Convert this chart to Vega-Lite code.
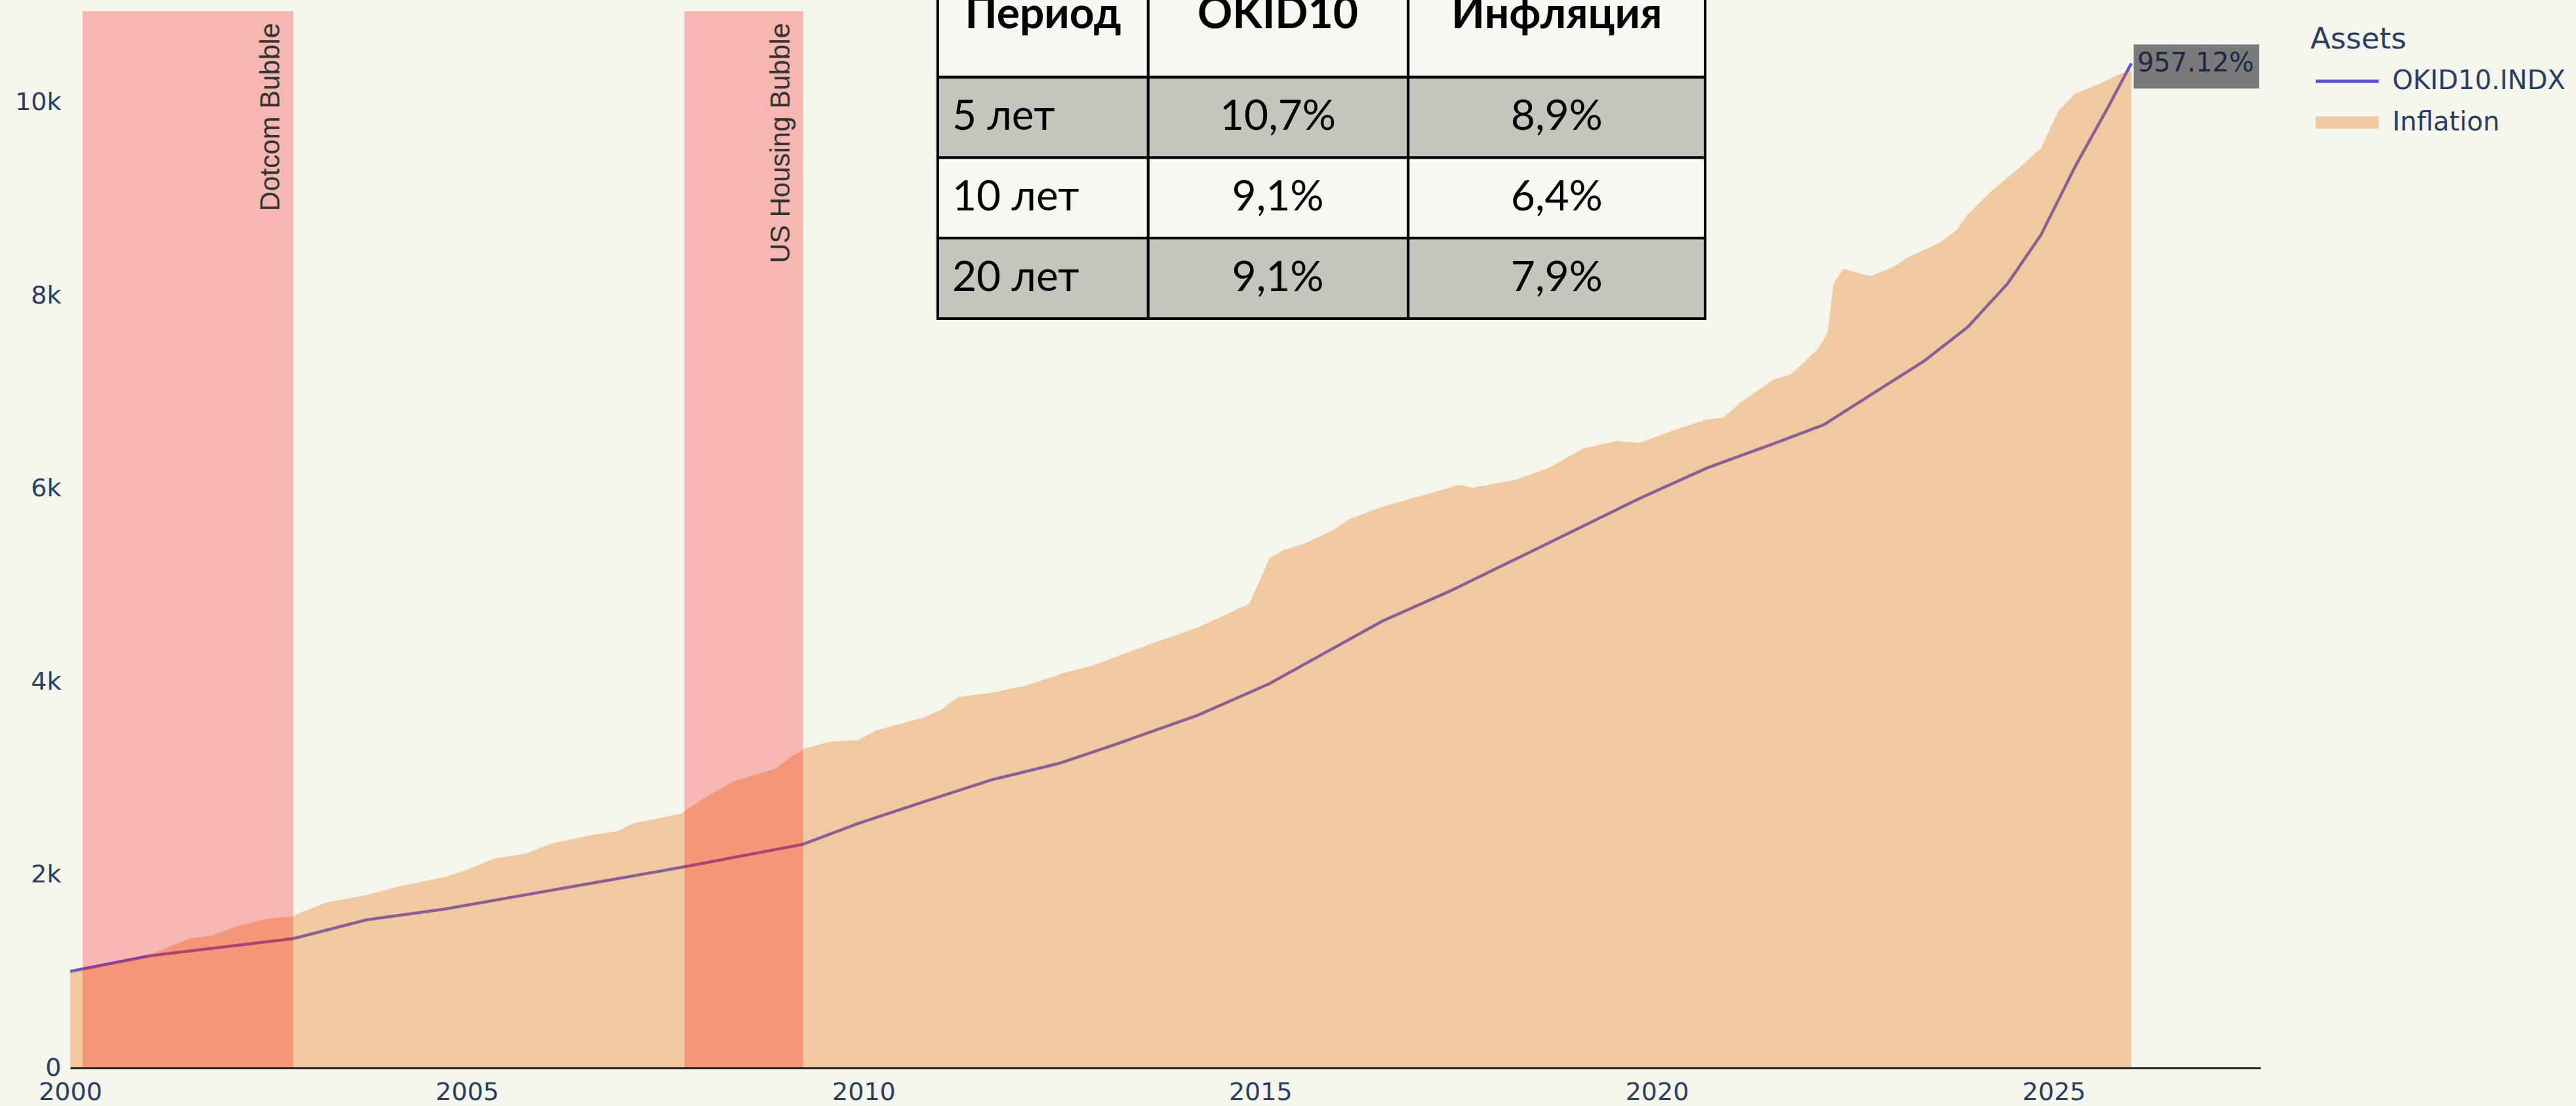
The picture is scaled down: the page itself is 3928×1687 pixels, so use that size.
{
  "$schema": "https://vega.github.io/schema/vega-lite/v6.json",
  "width": 3340,
  "height": 1612,
  "autosize": {"type": "none"},
  "padding": {"left": 107, "top": 17, "right": 481, "bottom": 58},
  "background": "#f5f4ed",
  "config": {"view": {"stroke": null}, "font": "DejaVu Sans"},
  "datasets": {
    "series": [
      {"d": "2000-01-01", "v": 1000, "s": "Inflation"},
      {"d": "2000-12-06", "v": 1148, "s": "Inflation"},
      {"d": "2001-07-01", "v": 1340, "s": "Inflation"},
      {"d": "2001-10-19", "v": 1375, "s": "Inflation"},
      {"d": "2002-02-18", "v": 1476, "s": "Inflation"},
      {"d": "2002-06-20", "v": 1544, "s": "Inflation"},
      {"d": "2002-10-23", "v": 1569, "s": "Inflation"},
      {"d": "2002-11-21", "v": 1603, "s": "Inflation"},
      {"d": "2003-03-24", "v": 1714, "s": "Inflation"},
      {"d": "2003-09-27", "v": 1793, "s": "Inflation"},
      {"d": "2004-02-28", "v": 1884, "s": "Inflation"},
      {"d": "2004-09-17", "v": 1977, "s": "Inflation"},
      {"d": "2005-01-01", "v": 2054, "s": "Inflation"},
      {"d": "2005-05-03", "v": 2167, "s": "Inflation"},
      {"d": "2005-10-05", "v": 2224, "s": "Inflation"},
      {"d": "2006-01-23", "v": 2325, "s": "Inflation"},
      {"d": "2006-07-23", "v": 2412, "s": "Inflation"},
      {"d": "2006-11-21", "v": 2452, "s": "Inflation"},
      {"d": "2007-02-07", "v": 2535, "s": "Inflation"},
      {"d": "2007-09-13", "v": 2636, "s": "Inflation"},
      {"d": "2008-01-15", "v": 2819, "s": "Inflation"},
      {"d": "2008-05-14", "v": 2972, "s": "Inflation"},
      {"d": "2008-11-18", "v": 3098, "s": "Inflation"},
      {"d": "2009-02-03", "v": 3227, "s": "Inflation"},
      {"d": "2009-04-04", "v": 3310, "s": "Inflation"},
      {"d": "2009-08-03", "v": 3383, "s": "Inflation"},
      {"d": "2009-12-06", "v": 3397, "s": "Inflation"},
      {"d": "2010-02-21", "v": 3492, "s": "Inflation"},
      {"d": "2010-10-08", "v": 3634, "s": "Inflation"},
      {"d": "2010-12-27", "v": 3718, "s": "Inflation"},
      {"d": "2011-03-13", "v": 3845, "s": "Inflation"},
      {"d": "2011-08-14", "v": 3887, "s": "Inflation"},
      {"d": "2012-01-15", "v": 3960, "s": "Inflation"},
      {"d": "2012-07-19", "v": 4098, "s": "Inflation"},
      {"d": "2012-11-21", "v": 4171, "s": "Inflation"},
      {"d": "2013-03-02", "v": 4255, "s": "Inflation"},
      {"d": "2013-08-03", "v": 4385, "s": "Inflation"},
      {"d": "2014-03-20", "v": 4565, "s": "Inflation"},
      {"d": "2014-07-23", "v": 4694, "s": "Inflation"},
      {"d": "2014-11-11", "v": 4810, "s": "Inflation"},
      {"d": "2014-12-24", "v": 5020, "s": "Inflation"},
      {"d": "2015-02-11", "v": 5278, "s": "Inflation"},
      {"d": "2015-04-12", "v": 5360, "s": "Inflation"},
      {"d": "2015-07-30", "v": 5441, "s": "Inflation"},
      {"d": "2015-12-02", "v": 5571, "s": "Inflation"},
      {"d": "2016-02-14", "v": 5686, "s": "Inflation"},
      {"d": "2016-07-15", "v": 5815, "s": "Inflation"},
      {"d": "2016-12-17", "v": 5913, "s": "Inflation"},
      {"d": "2017-07-05", "v": 6043, "s": "Inflation"},
      {"d": "2017-09-06", "v": 6012, "s": "Inflation"},
      {"d": "2018-03-24", "v": 6094, "s": "Inflation"},
      {"d": "2018-08-25", "v": 6223, "s": "Inflation"},
      {"d": "2019-01-26", "v": 6417, "s": "Inflation"},
      {"d": "2019-07-01", "v": 6498, "s": "Inflation"},
      {"d": "2019-10-12", "v": 6475, "s": "Inflation"},
      {"d": "2020-03-13", "v": 6603, "s": "Inflation"},
      {"d": "2020-08-18", "v": 6719, "s": "Inflation"},
      {"d": "2020-11-03", "v": 6739, "s": "Inflation"},
      {"d": "2021-01-19", "v": 6895, "s": "Inflation"},
      {"d": "2021-06-20", "v": 7130, "s": "Inflation"},
      {"d": "2021-09-09", "v": 7187, "s": "Inflation"},
      {"d": "2022-01-08", "v": 7441, "s": "Inflation"},
      {"d": "2022-02-25", "v": 7616, "s": "Inflation"},
      {"d": "2022-03-24", "v": 8125, "s": "Inflation"},
      {"d": "2022-05-07", "v": 8281, "s": "Inflation"},
      {"d": "2022-09-09", "v": 8202, "s": "Inflation"},
      {"d": "2022-12-27", "v": 8302, "s": "Inflation"},
      {"d": "2023-02-28", "v": 8397, "s": "Inflation"},
      {"d": "2023-07-30", "v": 8553, "s": "Inflation"},
      {"d": "2023-10-15", "v": 8689, "s": "Inflation"},
      {"d": "2023-12-02", "v": 8845, "s": "Inflation"},
      {"d": "2024-03-17", "v": 9079, "s": "Inflation"},
      {"d": "2024-07-19", "v": 9314, "s": "Inflation"},
      {"d": "2024-11-03", "v": 9528, "s": "Inflation"},
      {"d": "2025-01-23", "v": 9918, "s": "Inflation"},
      {"d": "2025-04-08", "v": 10095, "s": "Inflation"},
      {"d": "2025-07-23", "v": 10190, "s": "Inflation"},
      {"d": "2025-10-08", "v": 10272, "s": "Inflation"},
      {"d": "2025-12-24", "v": 10346, "s": "Inflation"},
      {"d": "2000-01-01", "v": 1000, "s": "OKID10.INDX"},
      {"d": "2001-01-01", "v": 1162, "s": "OKID10.INDX"},
      {"d": "2002-10-23", "v": 1340, "s": "OKID10.INDX"},
      {"d": "2003-09-27", "v": 1535, "s": "OKID10.INDX"},
      {"d": "2004-09-17", "v": 1646, "s": "OKID10.INDX"},
      {"d": "2006-07-23", "v": 1912, "s": "OKID10.INDX"},
      {"d": "2007-10-01", "v": 2085, "s": "OKID10.INDX"},
      {"d": "2009-03-27", "v": 2317, "s": "OKID10.INDX"},
      {"d": "2009-12-06", "v": 2533, "s": "OKID10.INDX"},
      {"d": "2010-10-08", "v": 2761, "s": "OKID10.INDX"},
      {"d": "2011-08-14", "v": 2986, "s": "OKID10.INDX"},
      {"d": "2012-06-17", "v": 3155, "s": "OKID10.INDX"},
      {"d": "2013-03-02", "v": 3350, "s": "OKID10.INDX"},
      {"d": "2014-03-20", "v": 3655, "s": "OKID10.INDX"},
      {"d": "2015-02-11", "v": 3981, "s": "OKID10.INDX"},
      {"d": "2016-07-15", "v": 4629, "s": "OKID10.INDX"},
      {"d": "2017-05-21", "v": 4939, "s": "OKID10.INDX"},
      {"d": "2018-06-09", "v": 5360, "s": "OKID10.INDX"},
      {"d": "2019-10-12", "v": 5900, "s": "OKID10.INDX"},
      {"d": "2020-08-18", "v": 6216, "s": "OKID10.INDX"},
      {"d": "2021-06-20", "v": 6467, "s": "OKID10.INDX"},
      {"d": "2022-02-07", "v": 6664, "s": "OKID10.INDX"},
      {"d": "2022-09-24", "v": 6993, "s": "OKID10.INDX"},
      {"d": "2023-05-14", "v": 7323, "s": "OKID10.INDX"},
      {"d": "2023-12-02", "v": 7677, "s": "OKID10.INDX"},
      {"d": "2024-06-02", "v": 8125, "s": "OKID10.INDX"},
      {"d": "2024-11-03", "v": 8631, "s": "OKID10.INDX"},
      {"d": "2025-04-08", "v": 9334, "s": "OKID10.INDX"},
      {"d": "2025-09-09", "v": 9959, "s": "OKID10.INDX"},
      {"d": "2025-12-24", "v": 10408, "s": "OKID10.INDX"}
    ],
    "bubbles": [
      {"name": "Dotcom Bubble", "start": "2000-02-27", "end": "2002-10-24"},
      {"name": "US Housing Bubble", "start": "2007-09-29", "end": "2009-03-28"}
    ],
    "table": [
      {"period": "Период", "okid": "OKID10", "infl": "Инфляция"},
      {"period": "5 лет", "okid": "10,7%", "infl": "8,9%"},
      {"period": "10 лет", "okid": "9,1%", "infl": "6,4%"},
      {"period": "20 лет", "okid": "9,1%", "infl": "7,9%"}
    ],
    "label": [{"label": "957.12%"}]
  },
  "layer": [
    {
      "layer": [
        {
          "data": {"name": "series"},
          "transform": [{"filter": "datum.s === 'OKID10.INDX'"}],
          "mark": {"type": "line", "strokeWidth": 4.5},
          "encoding": {
            "x": {
              "field": "d", "type": "temporal",
              "scale": {"type": "utc", "domain": [{"year": 2000, "month": 1, "date": 1, "utc": true}, {"year": 2027, "month": 8, "date": 11, "utc": true}]},
              "axis": {"title": null, "format": "%Y", "formatType": "utc", "tickCount": {"interval": "year", "step": 5}, "labelFlush": false, "labelOverlap": false, "domain": true, "domainColor": "#222222", "domainWidth": 3, "ticks": false, "grid": false, "labelFont": "DejaVu Sans", "labelFontSize": 38, "labelColor": "#2a3f5f", "labelPadding": 18, "zindex": 1}
            },
            "y": {
              "field": "v", "type": "quantitative",
              "scale": {"domain": [0, 10950], "nice": false, "zero": true},
              "axis": {"title": null, "values": [0, 2000, 4000, 6000, 8000, 10000], "labelExpr": "datum.value === 0 ? '0' : (datum.value / 1000) + 'k'", "domain": false, "ticks": false, "grid": false, "labelFont": "DejaVu Sans", "labelFontSize": 38, "labelColor": "#2a3f5f", "labelPadding": 14}
            },
            "color": {
              "field": "s", "type": "nominal",
              "scale": {"domain": ["OKID10.INDX", "Inflation"], "range": ["#5d4fde", "#e47c11"]},
              "legend": {
                "title": "Assets", "orient": "none", "legendX": 3416, "legendY": 21,
                "titleFont": "DejaVu Sans", "titleFontSize": 45, "titleFontWeight": "normal", "titleColor": "#2a3f5f", "titlePadding": 21,
                "labelFont": "DejaVu Sans", "labelFontSize": 40, "labelColor": "#2a3f5f", "labelOffset": 85, "labelLimit": 0,
                "symbolSize": 1600, "rowPadding": 23,
                "encode": {"symbols": {"update": {
                  "shape": {"signal": "datum.value === 'Inflation' ? 'M-0.6,-0.475H4.2V0.475H-0.6Z' : 'M-0.6,0H4.2'"},
                  "strokeWidth": {"signal": "datum.value === 'Inflation' ? 0 : 5"},
                  "opacity": {"signal": "datum.value === 'Inflation' ? 0.35 : 1"}
                }}}
              }
            }
          }
        },
        {
          "data": {"name": "series"},
          "transform": [{"filter": "datum.s === 'Inflation'"}],
          "mark": {"type": "area", "opacity": 0.35},
          "encoding": {
            "x": {"field": "d", "type": "temporal"},
            "y": {"field": "v", "type": "quantitative"},
            "color": {"field": "s", "type": "nominal"}
          }
        },
        {
          "data": {"name": "bubbles"},
          "mark": {"type": "rect", "color": "#ff0000", "opacity": 0.25},
          "encoding": {
            "x": {"field": "start", "type": "temporal"},
            "x2": {"field": "end"}
          }
        },
        {
          "data": {"name": "bubbles"},
          "mark": {"type": "text", "angle": 270, "align": "right", "baseline": "bottom", "dx": -18, "dy": -12, "font": "Liberation Sans", "fontSize": 42, "color": "#333333"},
          "encoding": {
            "x": {"field": "end", "type": "temporal"},
            "y": {"datum": 10950, "type": "quantitative"},
            "text": {"field": "name"}
          }
        },
        {
          "data": {"name": "label"},
          "mark": {"type": "rect", "color": "#7a7a7a"},
          "encoding": {
            "x": {"datum": {"year": 2026, "month": 1, "date": 4, "utc": true}, "type": "temporal"},
            "x2": {"datum": {"year": 2027, "month": 8, "date": 5, "utc": true}},
            "y": {"datum": 10605, "type": "quantitative"},
            "y2": {"datum": 10149}
          }
        },
        {
          "data": {"name": "label"},
          "mark": {"type": "text", "align": "left", "baseline": "middle", "dx": 9, "font": "DejaVu Sans", "fontSize": 40, "color": "#1c2940"},
          "encoding": {
            "x": {"datum": {"year": 2025, "month": 12, "date": 24, "utc": true}, "type": "temporal"},
            "y": {"datum": 10408, "type": "quantitative"},
            "text": {"field": "label"}
          }
        }
      ]
    },
    {
      "data": {"name": "table"},
      "encoding": {
        "y": {"field": "period", "type": "nominal", "sort": null, "scale": {"type": "band", "range": [-22, 469], "paddingInner": 0, "paddingOuter": 0}, "axis": null}
      },
      "layer": [
        {
          "mark": {"type": "rect", "stroke": "#000000", "strokeWidth": 4},
          "encoding": {
            "x": {"datum": {"year": 2010, "month": 12, "date": 8, "utc": true}, "type": "temporal"},
            "x2": {"datum": {"year": 2013, "month": 8, "date": 3, "utc": true}},
            "fill": {"condition": {"test": "datum.period === '5 лет' || datum.period === '20 лет'", "value": "#c5c5bd"}, "value": "#f8f7f2"}
          }
        },
        {
          "mark": {"type": "rect", "stroke": "#000000", "strokeWidth": 4},
          "encoding": {
            "x": {"datum": {"year": 2013, "month": 8, "date": 3, "utc": true}, "type": "temporal"},
            "x2": {"datum": {"year": 2016, "month": 11, "date": 12, "utc": true}},
            "fill": {"condition": {"test": "datum.period === '5 лет' || datum.period === '20 лет'", "value": "#c5c5bd"}, "value": "#f8f7f2"}
          }
        },
        {
          "mark": {"type": "rect", "stroke": "#000000", "strokeWidth": 4},
          "encoding": {
            "x": {"datum": {"year": 2016, "month": 11, "date": 12, "utc": true}, "type": "temporal"},
            "x2": {"datum": {"year": 2020, "month": 8, "date": 10, "utc": true}},
            "fill": {"condition": {"test": "datum.period === '5 лет' || datum.period === '20 лет'", "value": "#c5c5bd"}, "value": "#f8f7f2"}
          }
        },
        {
          "transform": [{"filter": "datum.period === 'Период'"}],
          "mark": {"type": "text", "font": "Lato", "fontSize": 66, "fontWeight": "bold", "baseline": "alphabetic", "dy": -13, "color": "#000000"},
          "encoding": {
            "x": {"datum": {"year": 2012, "month": 4, "date": 6, "utc": true}, "type": "temporal"},
            "text": {"field": "period"}
          }
        },
        {
          "transform": [{"filter": "datum.period !== 'Период'"}],
          "mark": {"type": "text", "font": "Lato", "fontSize": 64, "align": "left", "baseline": "middle", "dx": 22, "color": "#000000"},
          "encoding": {
            "x": {"datum": {"year": 2010, "month": 12, "date": 8, "utc": true}, "type": "temporal"},
            "text": {"field": "period"}
          }
        },
        {
          "transform": [{"filter": "datum.period === 'Период'"}],
          "mark": {"type": "text", "font": "Lato", "fontSize": 66, "fontWeight": "bold", "baseline": "alphabetic", "dy": -13, "color": "#000000"},
          "encoding": {
            "x": {"datum": {"year": 2015, "month": 3, "date": 23, "utc": true}, "type": "temporal"},
            "text": {"field": "okid"}
          }
        },
        {
          "transform": [{"filter": "datum.period !== 'Период'"}],
          "mark": {"type": "text", "font": "Lato", "fontSize": 64, "baseline": "middle", "color": "#000000"},
          "encoding": {
            "x": {"datum": {"year": 2015, "month": 3, "date": 23, "utc": true}, "type": "temporal"},
            "text": {"field": "okid"}
          }
        },
        {
          "transform": [{"filter": "datum.period === 'Период'"}],
          "mark": {"type": "text", "font": "Lato", "fontSize": 66, "fontWeight": "bold", "baseline": "alphabetic", "dy": -13, "color": "#000000"},
          "encoding": {
            "x": {"datum": {"year": 2018, "month": 9, "date": 27, "utc": true}, "type": "temporal"},
            "text": {"field": "infl"}
          }
        },
        {
          "transform": [{"filter": "datum.period !== 'Период'"}],
          "mark": {"type": "text", "font": "Lato", "fontSize": 64, "baseline": "middle", "color": "#000000"},
          "encoding": {
            "x": {"datum": {"year": 2018, "month": 9, "date": 27, "utc": true}, "type": "temporal"},
            "text": {"field": "infl"}
          }
        }
      ]
    }
  ],
  "resolve": {"scale": {"y": "independent"}}
}
